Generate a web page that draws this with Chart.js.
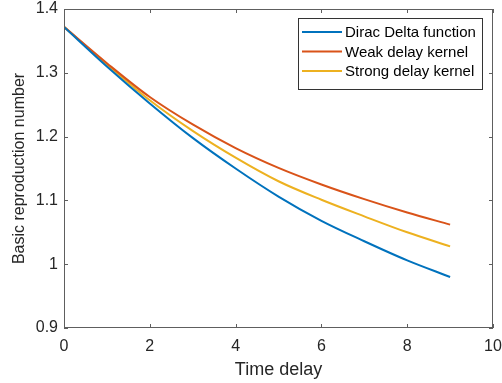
<!DOCTYPE html>
<html>
<head>
<meta charset="utf-8">
<script src="https://cdn.jsdelivr.net/npm/chart.js@4.4.1/dist/chart.umd.min.js"></script>
<style>
  html, body { margin: 0; padding: 0; background: #fff; }
  #wrap { width: 502px; height: 383px; position: relative; }
</style>
</head>
<body>
<div id="wrap"><canvas id="chart"></canvas></div>
<script>
// values
const timeDelay = [0, 1, 2, 3, 4, 5, 6, 7, 8, 9];
const diracDelta = [1.372, 1.310, 1.252, 1.198, 1.150, 1.106, 1.068, 1.036, 1.006, 0.980];
const weakKernel = [1.372, 1.315, 1.262, 1.219, 1.182, 1.151, 1.125, 1.102, 1.081, 1.062];
const strongKernel = [1.372, 1.313, 1.257, 1.209, 1.167, 1.130, 1.101, 1.075, 1.050, 1.028];
const seriesNames = ['Dirac Delta function', 'Weak delay kernel', 'Strong delay kernel'];
const seriesColors = ['#0072BD', '#D95319', '#EDB120'];

const xTitle = 'Time delay';
const yTitle = 'Basic reproduction number';

const FONT = 'Arial, "Liberation Sans", Helvetica, sans-serif';
const AXIS_COLOR = '#5e5e5e';
const TEXT_COLOR = '#262626';

function toPoints(vals) {
  return vals.map((v, i) => ({ x: timeDelay[i], y: v }));
}

// box around the plot with ticks pointing inwards on all four sides
const matlabBox = {
  id: 'matlabBox',
  afterDatasetsDraw(chart) {
    const { ctx, chartArea: a, scales } = chart;
    ctx.save();
    ctx.strokeStyle = AXIS_COLOR;
    ctx.lineWidth = 1;
    ctx.strokeRect(a.left + 0.5, a.top + 0.5, a.right - a.left - 1, a.bottom - a.top - 1);
    const len = 4;
    ctx.beginPath();
    scales.x.ticks.forEach(t => {
      const px = Math.round(scales.x.getPixelForValue(t.value)) + 0.5;
      ctx.moveTo(px, a.bottom); ctx.lineTo(px, a.bottom - len);
      ctx.moveTo(px, a.top); ctx.lineTo(px, a.top + len);
    });
    scales.y.ticks.forEach(t => {
      const py = Math.round(scales.y.getPixelForValue(t.value)) + 0.5;
      ctx.moveTo(a.left, py); ctx.lineTo(a.left + len, py);
      ctx.moveTo(a.right, py); ctx.lineTo(a.right - len, py);
    });
    ctx.stroke();

    // legend box in the upper right corner
    const lx = 298, ly = 18, lw = 184, lh = 71, row = 19.5;
    ctx.fillStyle = '#fff';
    ctx.fillRect(lx, ly, lw, lh);
    ctx.strokeStyle = '#333';
    ctx.strokeRect(lx + 0.5, ly + 0.5, lw, lh);
    ctx.font = '15px ' + FONT;
    ctx.textBaseline = 'middle';
    chart.data.datasets.forEach((ds, i) => {
      const y = ly + 14 + i * row;
      ctx.strokeStyle = ds.borderColor;
      ctx.lineWidth = 2;
      ctx.beginPath();
      ctx.moveTo(lx + 4, y); ctx.lineTo(lx + 44, y);
      ctx.stroke();
      ctx.fillStyle = '#000';
      ctx.fillText(ds.label, lx + 47, y + 1);
    });
    ctx.restore();
  }
};

new Chart(document.getElementById('chart'), {
  type: 'line',
  data: {
    datasets: [diracDelta, weakKernel, strongKernel].map((vals, i) => ({
      label: seriesNames[i],
      data: toPoints(vals),
      borderColor: seriesColors[i],
      backgroundColor: seriesColors[i],
      borderWidth: 2,
      pointRadius: 0,
      cubicInterpolationMode: 'monotone',
      fill: false
    }))
  },
  options: {
    responsive: true,
    maintainAspectRatio: false,
    animation: false,
    layout: { padding: { top: 9, right: 9, left: 0, bottom: 0 } },
    plugins: {
      legend: { display: false },
      tooltip: { enabled: false }
    },
    scales: {
      x: {
        type: 'linear',
        min: 0, max: 10,
        grid: { display: false, drawTicks: false },
        border: { display: false },
        ticks: {
          stepSize: 2,
          padding: 9,
          color: TEXT_COLOR,
          font: { family: FONT, size: 16 },
          maxRotation: 0
        },
        title: {
          display: true, text: xTitle, color: TEXT_COLOR,
          font: { family: FONT, size: 18 },
          padding: { top: 2, bottom: 2 }
        },
        afterFit(scale) {
          scale.height = 55;
          scale.paddingLeft = 0;
          scale.paddingRight = 0;
        }
      },
      y: {
        type: 'linear',
        min: 0.9, max: 1.4,
        grid: { display: false, drawTicks: false },
        border: { display: false },
        ticks: {
          stepSize: 0.1,
          padding: 6,
          color: TEXT_COLOR,
          font: { family: FONT, size: 16 },
          callback: v => String(Number(v.toFixed(1)))
        },
        title: {
          display: true, text: yTitle, color: TEXT_COLOR,
          font: { family: FONT, size: 16 },
          padding: { top: 10, bottom: 10 }
        },
        afterFit(scale) {
          scale.width = 64;
          scale.paddingTop = 0;
          scale.paddingBottom = 0;
        }
      }
    }
  },
  plugins: [matlabBox]
});
</script>
</body>
</html>
